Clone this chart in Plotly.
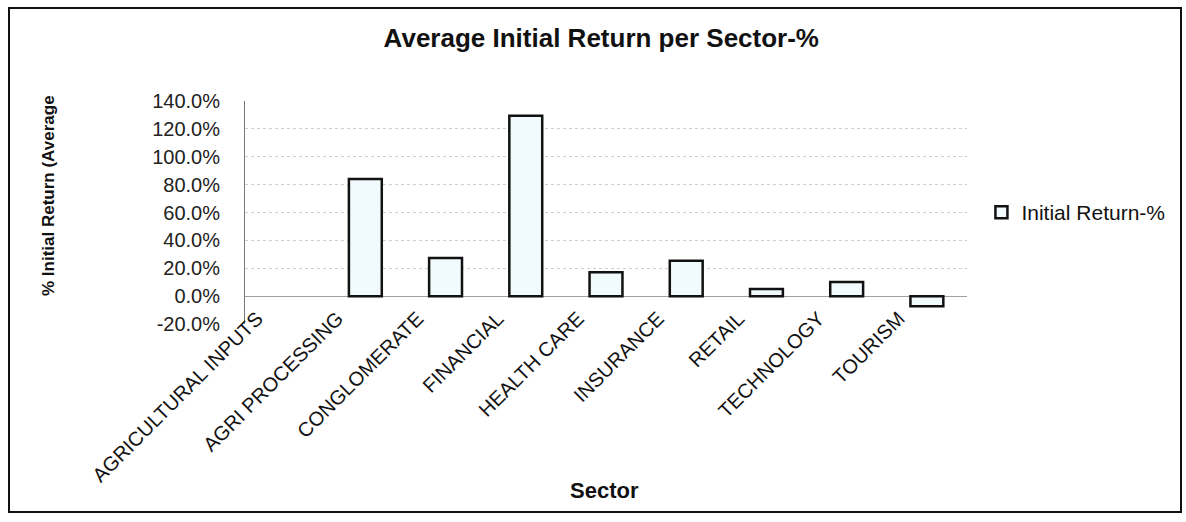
import plotly.graph_objects as go

# Sector categories and their average initial return (%)
sectors = [
    "AGRICULTURAL INPUTS", "AGRI PROCESSING", "CONGLOMERATE", "FINANCIAL",
    "HEALTH CARE", "INSURANCE", "RETAIL", "TECHNOLOGY", "TOURISM",
]
initial_return_pct = [None, 84.0, 27.4, 129.4, 17.1, 25.4, 5.2, 10.2, -7.2]
y_ticks = [-20, 0, 20, 40, 60, 80, 100, 120, 140]
y_tick_text = [f"{v:.1f}%" for v in y_ticks]

FONT = "Liberation Sans, Arial, sans-serif"

fig = go.Figure()
fig.add_trace(go.Bar(
    x=sectors,
    y=initial_return_pct,
    name="Initial Return-%",
    width=0.41,
    marker=dict(color="#f1fafd", line=dict(color="#111111", width=2.5)),
))

fig.update_layout(
    width=1186, height=522,
    margin=dict(l=245, r=219, t=101, b=198),
    paper_bgcolor="white", plot_bgcolor="white",
    font=dict(family=FONT, color="#111111"),
    title=dict(
        text="<b>Average Initial Return per Sector-%</b>",
        x=0.507, xanchor="center", xref="container",
        y=1 - 38 / 522, yanchor="middle", yref="container",
        font=dict(size=26, family=FONT, color="#111111"),
    ),
    showlegend=True,
    legend=dict(
        x=1.02, xanchor="left", y=0.5, yanchor="middle",
        font=dict(size=21, family=FONT, color="#111111"),
        bgcolor="rgba(0,0,0,0)",
    ),
    xaxis=dict(
        type="category", range=[-0.5, 8.5],
        tickangle=-45, tickfont=dict(size=20, family=FONT, color="#111111"),
        showgrid=False, showline=False, ticks="",
        ticklabelshift=-28, ticklabelstandoff=-22,
    ),
    yaxis=dict(
        range=[-20, 140], tickvals=y_ticks, ticktext=y_tick_text,
        tickfont=dict(size=20, family=FONT, color="#222222"),
        showgrid=True, gridcolor="#cfcfcf", griddash="dot", gridwidth=1,
        zeroline=True, zerolinecolor="#a0a0a0", zerolinewidth=1,
        showline=True, linecolor="#777777", linewidth=1,
        ticks="", ticklabelstandoff=20,
    ),
    annotations=[
        dict(text="<b>% Initial Return (Average</b>", textangle=-90,
             x=(48 - 245) / 722, y=(324 - 196) / 223, xref="paper", yref="paper",
             xanchor="center", yanchor="middle",
             showarrow=False, font=dict(size=17, family=FONT, color="#111111")),
        dict(text="<b>Sector</b>",
             x=(604 - 245) / 722, y=(324 - 490) / 223, xref="paper", yref="paper",
             xanchor="center", yanchor="middle",
             showarrow=False, font=dict(size=22, family=FONT, color="#111111")),
    ],
    shapes=[
        dict(type="rect", xref="paper", yref="paper",
             x0=(9 - 245) / 722, x1=(1181 - 245) / 722,
             y0=(324 - 512) / 223, y1=(324 - 8) / 223,
             line=dict(color="#111111", width=2), fillcolor="rgba(0,0,0,0)"),
    ],
)

fig.write_html("out.html")
